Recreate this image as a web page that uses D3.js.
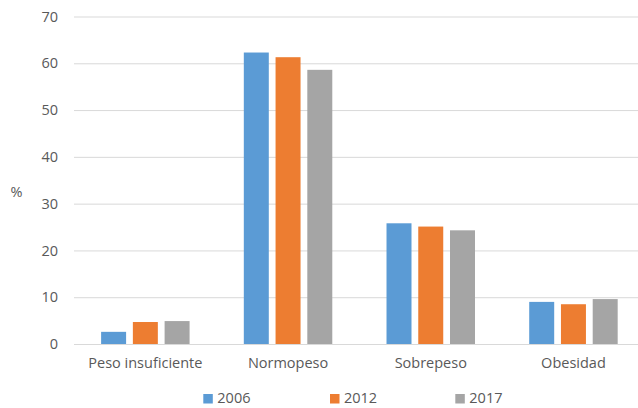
<!DOCTYPE html>
<html><head><meta charset="utf-8">
<script src="https://cdn.jsdelivr.net/npm/d3@7"></script>
<style>body{margin:0;background:#fff}svg{display:block}</style>
</head><body><svg id="c" width="638" height="408"></svg>
<script>
const categories = ["Peso insuficiente","Normopeso","Sobrepeso","Obesidad"];
const series = ["2006","2012","2017"];
const values2006 = [2.6, 62.3, 25.8, 9.0];
const values2012 = [4.7, 61.3, 25.1, 8.5];
const values2017 = [4.9, 58.6, 24.3, 9.6];
const yTicks = [0,10,20,30,40,50,60,70];
const colors = ["#5B9BD5","#ED7D31","#A5A5A5"];
const allValues = [values2006, values2012, values2017];

const svg = d3.select("#c");
const font = "'Open Sans', sans-serif";
const txt = "#595959";
const x0 = d3.scaleBand().domain(categories).range([74, 644.8]).paddingInner(0.38).paddingOuter(0.19);
const x1 = d3.scaleBand().domain(series).range([0, x0.bandwidth()]).paddingInner(0.213);
const y = d3.scaleLinear().domain([0,70]).range([344, 16.5]);

// grid
const yAxis = d3.axisLeft(y).tickValues(yTicks).tickSize(-(644.8-74)).tickPadding(16);
const ga = svg.append("g").attr("transform","translate(74,0)").call(yAxis);
ga.select(".domain").remove();
ga.selectAll(".tick line").attr("stroke","#d9d9d9").attr("stroke-width",1);
ga.selectAll(".tick text").attr("fill",txt).style("font-family",font).style("font-size","14.5px");

// bars
categories.forEach((c,i)=>{
  series.forEach((s,j)=>{
    svg.append("rect")
      .attr("x", x0(c)+x1(s)).attr("width", x1.bandwidth())
      .attr("y", y(allValues[j][i])).attr("height", y(0)-y(allValues[j][i]))
      .attr("fill", colors[j]);
  });
});

// x axis labels
const xAxis = d3.axisBottom(x0).tickSize(0).tickPadding(14);
const gx = svg.append("g").attr("transform","translate(0,344)").call(xAxis);
gx.select(".domain").remove();
gx.selectAll(".tick text").attr("fill",txt).style("font-family",font).style("font-size","14.5px");

// y label
svg.append("text").attr("x",16.5).attr("y",192).attr("dy","0.35em").attr("text-anchor","middle")
  .attr("fill",txt).style("font-family",font).style("font-size","14.5px").text("%");

// legend
const legX = [203.3, 330, 455.3];
series.forEach((s,j)=>{
  svg.append("rect").attr("x",legX[j]).attr("y",394).attr("width",9.5).attr("height",9.5).attr("fill",colors[j]);
  svg.append("text").attr("x",legX[j]+14).attr("y",403.3)
    .attr("fill",txt).style("font-family",font).style("font-size","14.5px").text(s);
});
</script></body></html>
